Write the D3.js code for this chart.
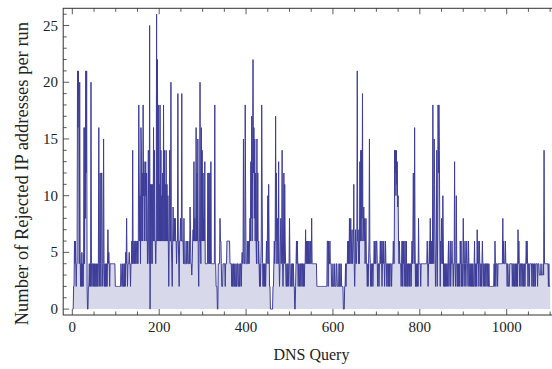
<!DOCTYPE html>
<html>
<head>
<meta charset="utf-8">
<script src="https://cdn.jsdelivr.net/npm/d3@7"></script>
<style>
  html, body { margin: 0; padding: 0; background: #fff; }
  svg { display: block; }
  .tick-label { font-family: "Liberation Serif", "Times New Roman", serif; font-size: 15px; fill: #222; }
  .axis-title { font-family: "Liberation Serif", "Times New Roman", serif; font-size: 16px; fill: #222; }
</style>
</head>
<body>
<div id="chart"></div>
<script>
// rejected IP addresses per run, one value per DNS query (100 per block)
const rej000 = [0,0,2,2,6,4,6,4,2,4, 4,21,16,21,16,4,20,5,2,4, 2,5,2,4,2,5,16,4,16,8, 21,12,21,2,0,0,2,2,4,2,
  4,2,20,4,2,4,4,2,4,2, 4,2,4,2,2,4,2,4,2,4, 16,4,2,12,4,2,12,12,4,2, 4,15,4,2,4,2,4,2,4,2,
  4,7,4,5,4,2,4,4,4,4, 4,4,4,4,4,4,4,4,2,2];
const rej100 = [2,2,2,2,2,2,2,2,2,2, 2,4,3,2,2,4,2,2,4,2, 4,2,5,4,8,4,2,4,4,4, 5,4,4,2,4,4,6,4,14,4,
  5,6,4,6,6,4,6,5,4,6, 4,6,18,12,6,10,4,16,14,6, 12,6,18,10,13,6,12,10,13,6, 12,9,4,6,14,6,4,25,0,11,
  4,11,6,4,11,6,16,6,14,6, 6,4,6,26,6,22,6,18,6,11];
const rej200 = [6,18,6,14,6,10,6,12,6,18, 6,14,6,11,6,14,6,11,6,10, 6,2,6,14,6,6,20,6,4,2, 6,9,6,6,8,6,8,6,6,4,
  6,6,19,6,4,2,6,6,8,6, 6,19,6,6,6,4,8,4,4,4, 4,6,4,4,6,4,4,4,6,4, 9,7,4,4,3,4,6,7,6,13,
  6,8,6,6,16,6,12,6,15,4, 2,6,6,20,6,4,16,6,14,6];
const rej300 = [12,6,8,6,13,4,4,4,4,4, 4,12,4,12,12,4,12,4,13,4, 4,4,4,4,4,4,4,18,4,4, 2,2,2,0,0,4,4,4,4,8,
  6,6,4,2,2,2,4,4,4,4, 4,2,4,4,4,6,6,6,6,6, 6,6,4,4,4,4,2,4,2,2, 4,2,2,4,2,2,4,2,2,4,
  4,2,2,4,2,2,4,4,2,4, 5,4,4,15,5,4,4,18,10,4];
const rej400 = [4,4,6,4,4,6,4,6,8,6, 13,8,17,6,13,22,12,16,8,15, 6,12,6,4,15,6,12,4,6,4, 2,4,2,4,6,18,10,4,2,4,
  2,4,2,4,2,4,6,4,6,10, 4,11,6,2,2,0,0,0,0,0, 0,2,2,4,6,4,6,17,6,12, 4,8,6,4,13,4,2,4,6,8,
  4,6,14,4,2,4,12,4,11,6, 4,2,2,4,2,4,4,2,4,8];
const rej500 = [4,2,2,4,2,4,4,2,4,2, 2,0,0,2,4,6,4,6,4,2, 4,4,2,4,4,2,4,4,2,4, 4,2,4,2,4,4,7,4,6,4,
  6,4,6,4,6,4,4,6,4,4, 8,4,4,4,4,4,4,4,4,4, 4,4,2,2,2,2,2,2,2,2, 2,2,2,2,2,2,2,2,2,2,
  2,2,2,2,2,2,6,6,2,6, 4,4,6,4,4,4,2,2,2,4];
const rej600 = [2,2,2,4,2,2,2,4,4,2, 2,2,2,4,2,4,2,2,4,2, 2,2,2,0,0,0,2,2,4,2, 4,4,4,6,4,6,4,8,4,6,
  8,4,6,7,4,5,6,11,4,2, 4,7,4,4,6,21,6,7,4,6, 4,13,6,14,6,14,8,19,6,7, 9,6,8,4,6,8,4,4,2,4,
  2,4,6,15,5,4,2,4,2,4, 4,2,4,4,6,4,6,4,4,6];
const rej700 = [6,4,2,4,4,2,4,4,6,4, 6,4,2,4,6,4,6,4,2,4, 6,4,4,2,4,4,2,4,2,4, 2,4,4,4,2,4,4,4,6,4,
  4,14,12,14,10,14,11,13,9,10, 6,4,6,4,4,4,2,4,6,2, 6,4,6,2,4,6,2,4,6,2, 4,2,4,4,2,4,2,4,4,2,
  4,6,4,6,12,6,4,16,6,2, 4,2,4,2,4,2,8,4,4,4];
const rej800 = [4,2,4,4,4,4,4,4,4,4, 4,4,4,4,4,4,6,4,2,4, 4,6,4,8,4,6,4,6,4,18, 6,4,15,11,6,2,4,6,14,2,
  6,18,12,18,14,6,2,6,4,8, 6,4,10,6,2,4,2,4,2,4, 2,4,4,2,4,6,2,4,4,6, 2,4,4,6,4,4,2,4,4,13,
  4,2,4,10,4,2,4,2,4,2, 4,2,6,4,6,2,4,2,4,8];
const rej900 = [4,2,4,6,4,2,4,6,4,4, 2,6,4,2,4,4,2,4,2,4, 2,4,2,2,4,6,2,4,2,4, 2,7,4,6,4,2,6,4,4,2,
  4,2,4,6,4,2,4,4,2,4, 4,2,4,4,2,4,4,2,4,2, 2,2,2,2,2,2,2,2,2,2, 4,2,6,4,2,4,4,4,2,4,
  4,4,4,4,4,4,4,4,4,4, 8,4,6,4,4,4,6,4,4,4];
const rej1000 = [2,4,4,2,2,2,4,4,4,4, 4,4,2,4,4,2,4,2,2,4, 2,4,2,4,2,7,4,6,4,2, 4,4,2,4,4,4,2,4,2,2,
  4,2,4,4,6,4,6,4,2,4, 4,2,4,4,4,4,4,2,4,4, 2,4,2,4,4,2,4,4,4,4, 2,4,4,4,3,3,3,3,4,3,
  3,3,3,4,3,14,4,4,4,4, 4,4,4,4,4,2,4,2,2,2];

const xTickValues = [0, 200, 400, 600, 800, 1000];
const yTickValues = [0, 5, 10, 15, 20, 25];
const xLabel = "DNS Query";
const yLabel = "Number of Rejected IP addresses per run";

const rejected = [].concat(rej000, rej100, rej200, rej300, rej400, rej500,
                           rej600, rej700, rej800, rej900, rej1000);
const data = rejected.map((v, i) => [i + 1, v]);

const W = 552, H = 369;
const frame = {left: 63.2, right: 559.7, top: 8.3, bottom: 315};

// plot range padded 2% like the original
const n = data.length;
const padX = 0.02 * (n - 1);
const yMax = d3.max(rejected);
const padY = 0.02 * yMax;

const x = d3.scaleLinear().domain([1 - padX, n + padX]).range([frame.left, frame.right]);
const y = d3.scaleLinear().domain([-padY, yMax + padY]).range([frame.bottom, frame.top]);

const svg = d3.select("#chart").append("svg")
    .attr("width", W).attr("height", H)
    .attr("viewBox", `0 0 ${W} ${H}`);

svg.append("clipPath").attr("id", "plotclip")
  .append("rect")
    .attr("x", frame.left).attr("y", frame.top)
    .attr("width", frame.right - frame.left).attr("height", frame.bottom - frame.top);

const plot = svg.append("g").attr("clip-path", "url(#plotclip)");

// filling to axis
plot.append("path")
    .datum(data)
    .attr("fill", "rgb(216,216,235)")
    .attr("d", d3.area().x(d => x(d[0])).y0(y(0)).y1(d => y(d[1])));

plot.append("path")
    .datum(data)
    .attr("fill", "none")
    .attr("stroke", "rgb(61,61,153)")
    .attr("stroke-width", 1)
    .attr("stroke-linejoin", "miter")
    .attr("d", d3.line().x(d => x(d[0])).y(d => y(d[1])));

// frame
svg.append("rect")
    .attr("x", frame.left).attr("y", frame.top)
    .attr("width", frame.right - frame.left).attr("height", frame.bottom - frame.top)
    .attr("fill", "none").attr("stroke", "#333").attr("stroke-width", 1);

// frame ticks point inward
const tickColor = "#333";
const xMinor = d3.range(0, 1101, 50);
const yMinor = d3.range(0, 27, 1);

function xTicks(yPos, dir) {
  svg.append("g").selectAll("line").data(xMinor).join("line")
      .attr("x1", d => x(d)).attr("x2", d => x(d))
      .attr("y1", yPos)
      .attr("y2", d => yPos + dir * (d % 200 === 0 ? 6 : 3.5))
      .attr("stroke", tickColor).attr("stroke-width", 0.8);
}
xTicks(frame.bottom, -1);
xTicks(frame.top, 1);

function yTicks(xPos, dir) {
  svg.append("g").selectAll("line").data(yMinor).join("line")
      .attr("y1", d => y(d)).attr("y2", d => y(d))
      .attr("x1", xPos)
      .attr("x2", d => xPos + dir * (d % 5 === 0 ? 6 : 3.5))
      .attr("stroke", tickColor).attr("stroke-width", 0.8);
}
yTicks(frame.left, 1);
yTicks(frame.right, -1);

svg.append("g").selectAll("text").data(xTickValues).join("text")
    .attr("class", "tick-label")
    .attr("x", d => x(d)).attr("y", 332)
    .attr("text-anchor", "middle")
    .text(d => d);

svg.append("g").selectAll("text").data(yTickValues).join("text")
    .attr("class", "tick-label")
    .attr("x", 58).attr("y", d => y(d) + 5)
    .attr("text-anchor", "end")
    .text(d => d);

svg.append("text")
    .attr("class", "axis-title")
    .attr("x", (frame.left + frame.right) / 2).attr("y", 360)
    .attr("text-anchor", "middle")
    .text(xLabel);

svg.append("text")
    .attr("class", "axis-title")
    .style("font-size", "18.5px")
    .attr("transform", `translate(28,${(frame.top + frame.bottom) / 2 + 12}) rotate(-90)`)
    .attr("text-anchor", "middle")
    .text(yLabel);
</script>
</body>
</html>
